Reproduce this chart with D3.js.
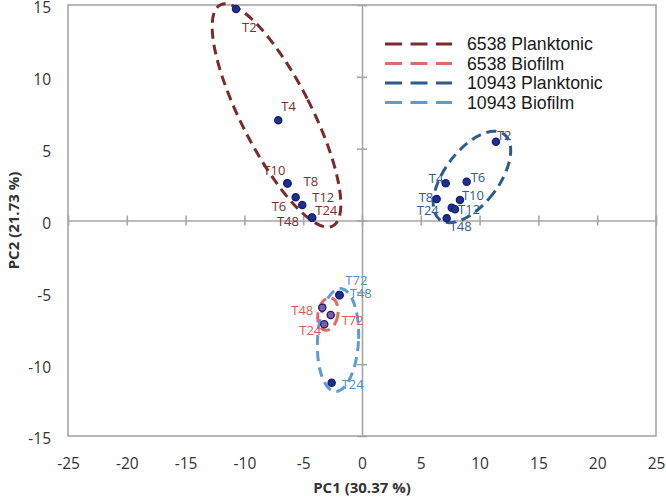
<!DOCTYPE html>
<html>
<head>
<meta charset="utf-8">
<script src="https://cdn.jsdelivr.net/npm/d3@7"></script>
<style>
  html, body { margin: 0; padding: 0; background: #fff; }
  svg { display: block; }
</style>
</head>
<body>
<svg id="chart" width="666" height="498"></svg>
<script>
// ---------- DATA ----------
const xTicks = [-25, -20, -15, -10, -5, 0, 5, 10, 15, 20, 25];
const yTicks = [-15, -10, -5, 0, 5, 10, 15];
const xTitle = "PC1 (30.37 %)";
const yTitle = "PC2 (21.73 %)";

const seriesNames = ["6538 Planktonic", "6538 Biofilm", "10943 Planktonic", "10943 Biofilm"];

// 6538 Planktonic
const p6538Labels = ["T2", "T4", "T10", "T8", "T6", "T12", "T24", "T48"];
const p6538X = [-10.71, -7.12, -6.35, -6.33, -5.64, -5.08, -4.23, -4.26];
const p6538Y = [14.72, 6.97, 2.59, 2.57, 1.61, 1.08, 0.19, 0.21];

// 6538 Biofilm
const b6538Labels = ["T48", "T72", "T24"];
const b6538X = [-3.38, -2.66, -3.21];
const b6538Y = [-6.07, -6.58, -7.22];

// 10943 Planktonic
const p10943Labels = ["T2", "T4", "T6", "T8", "T10", "T24", "T12", "T48"];
const p10943X = [11.39, 7.12, 8.90, 6.35, 8.33, 7.63, 7.91, 7.20];
const p10943Y = [5.48, 2.59, 2.70, 1.50, 1.43, 0.89, 0.78, 0.15];

// 10943 Biofilm
const b10943Labels = ["T72", "T48", "T24"];
const b10943X = [-1.93, -1.90, -2.58];
const b10943Y = [-5.18, -5.20, -11.29];

// cluster ellipse centres (data units)
const ellipseCX = [-7.27, -2.90, 9.35, -2.04];
const ellipseCY = [7.31, -6.51, 3.03, -8.32];

// ---------- STYLE / LAYOUT ----------
const lineColors = ["#7b2b2b", "#e06b66", "#2e5b8c", "#5d9bd3"];
const labelColors = ["#7a2f2a", "#d95a52", "#2c5d8f", "#4f8fce"];
// ellipse shape in pixels: [rx, ry, rotation deg]
const ellipseShape = [[35, 124, -27], [10, 16.5, 10], [27, 53.5, 37], [20.5, 51.5, 3]];
// label offsets relative to point (px): [dx, dy]
const labelOffsets = [
  [[6, 23], [3, -9], [-24, -8], [16, 2], [-24, 14], [10, -3], [3, -3], [-35, 9]],
  [[-31, 7], [11, 10], [-25, 11]],
  [[1, -2], [-17, 0], [4, 0], [-18, 3], [2, 0], [-35, 7], [3, 5], [3, 13]],
  [[6, -10], [10, 3], [10, 6]]
];

const series = [
  {labels: p6538Labels, xs: p6538X, ys: p6538Y},
  {labels: b6538Labels, xs: b6538X, ys: b6538Y},
  {labels: p10943Labels, xs: p10943X, ys: p10943Y},
  {labels: b10943Labels, xs: b10943X, ys: b10943Y}
];

const svg = d3.select("#chart");
const plotL = 68, plotR = 656, plotT = 5, plotB = 436;
const x = d3.scaleLinear().domain([-25, 25]).range([plotL, plotR]);
const y = d3.scaleLinear().domain([-15, 15]).range([plotB, plotT]);

const gridColor = "#a6a6a6";
const tickFont = "'Open Sans', 'Liberation Sans', sans-serif";
const plainNum = d => String(d);

// plot frame
svg.append("rect")
  .attr("x", plotL).attr("y", plotT)
  .attr("width", plotR - plotL).attr("height", plotB - plotT)
  .attr("fill", "none").attr("stroke", gridColor).attr("stroke-width", 1.6);

// zero axes with crossing ticks
const xZero = svg.append("g").attr("transform", `translate(0,${y(0) - 5})`)
  .call(d3.axisBottom(x).tickValues(xTicks).tickSize(10).tickSizeOuter(0).tickFormat(""));
xZero.select(".domain").attr("transform", "translate(0,5)");
const yZero = svg.append("g").attr("transform", `translate(${x(0) + 5},0)`)
  .call(d3.axisLeft(y).tickValues(yTicks).tickSize(10).tickSizeOuter(0).tickFormat(""));
yZero.select(".domain").attr("transform", "translate(-5,0)");
[xZero, yZero].forEach(g => {
  g.selectAll("path, line").attr("stroke", gridColor).attr("stroke-width", 1.6);
});

// tick labels (outside the frame)
const xLab = svg.append("g").attr("transform", `translate(0,${plotB})`)
  .call(d3.axisBottom(x).tickValues(xTicks).tickSize(0).tickPadding(22).tickFormat(plainNum));
xLab.select(".domain").remove();
const yLab = svg.append("g").attr("transform", `translate(${plotL},3)`)
  .call(d3.axisLeft(y).tickValues(yTicks).tickSize(0).tickPadding(17).tickFormat(plainNum));
yLab.select(".domain").remove();
[xLab, yLab].forEach(g => {
  g.selectAll("text").attr("font-family", tickFont).attr("font-size", 15.5).attr("fill", "#333");
});

// axis titles
svg.append("text").attr("x", x(0)).attr("y", 493)
  .attr("text-anchor", "middle").attr("font-family", tickFont)
  .attr("font-weight", "bold").attr("font-size", 15).attr("fill", "#333").text(xTitle);
svg.append("text").attr("transform", `translate(19,${y(0)}) rotate(-90)`)
  .attr("text-anchor", "middle").attr("font-family", tickFont)
  .attr("font-weight", "bold").attr("font-size", 15).attr("fill", "#333").text(yTitle);

// ellipses
series.forEach((s, i) => {
  const [rx, ry, rot] = ellipseShape[i];
  svg.append("ellipse")
    .attr("transform", `translate(${x(ellipseCX[i])},${y(ellipseCY[i])}) rotate(${rot})`)
    .attr("rx", rx).attr("ry", ry)
    .attr("fill", "none").attr("stroke", lineColors[i])
    .attr("stroke-width", 3).attr("stroke-dasharray", "10,6");
});

// points and labels
series.forEach((s, i) => {
  const g = svg.append("g");
  const pts = s.labels.map((l, j) => ({label: l, x: s.xs[j], y: s.ys[j], off: labelOffsets[i][j]}));
  g.selectAll("circle").data(pts).enter().append("circle")
    .attr("cx", d => x(d.x)).attr("cy", d => y(d.y)).attr("r", 3.6)
    .attr("fill", i === 1 ? "#8a5a9a" : "#1f2f8a")
    .attr("stroke", "#14207a").attr("stroke-width", 1.3);
  g.selectAll("text").data(pts).enter().append("text")
    .attr("x", d => x(d.x) + d.off[0]).attr("y", d => y(d.y) + d.off[1])
    .attr("font-family", tickFont).attr("font-size", 13)
    .attr("fill", labelColors[i]).text(d => d.label);
});

// legend
const legend = svg.append("g");
const legY = [44, 63.5, 83, 102.5];
seriesNames.forEach((name, i) => {
  legend.append("line")
    .attr("x1", 385).attr("x2", 452).attr("y1", legY[i]).attr("y2", legY[i])
    .attr("stroke", lineColors[i]).attr("stroke-width", 3.2)
    .attr("stroke-dasharray", "17,8.5");
  legend.append("text").attr("x", 467).attr("y", legY[i] + 6)
    .attr("font-family", "'Liberation Sans', Arial, sans-serif").attr("font-size", 17.7)
    .attr("fill", "#1a1a1a").text(name);
});
</script>
</body>
</html>
